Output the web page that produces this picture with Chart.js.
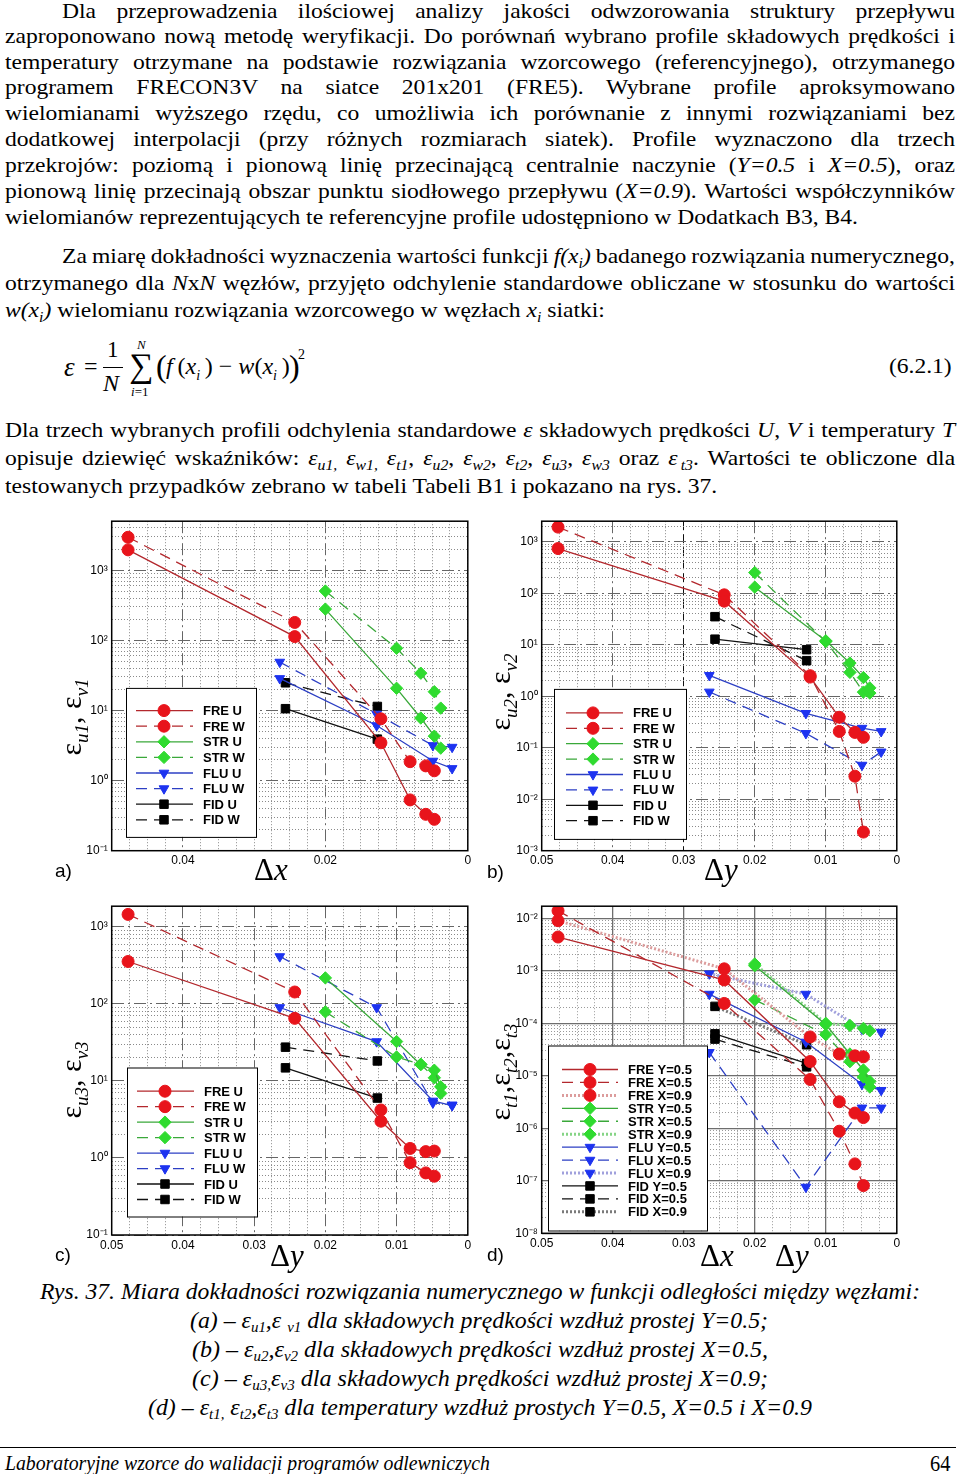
<!DOCTYPE html>
<html lang="pl">
<head>
<meta charset="utf-8">
<title>Rys. 37</title>
<script src="https://cdn.jsdelivr.net/npm/chart.js@4.4.1/dist/chart.umd.min.js"></script>
<style>
    html, body { margin: 0; padding: 0; background: #fff; }
    #page { position: relative; width: 960px; height: 1474px; overflow: hidden; font-family: "Liberation Serif", "Times New Roman", serif; color: #000; }
    .ln { position: absolute; font-size: 21px; line-height: 26px; white-space: nowrap; transform-origin: 0 0; }
    .ln > span { display: inline-block; white-space: nowrap; }
    .abs { position: absolute; white-space: nowrap; }
    .cap { position: absolute; font-style: italic; font-size: 24px; line-height: 28px; white-space: nowrap; transform-origin: 0 50%; }
    .cap > span { display: inline-block; white-space: nowrap; }
    .cap sub { font-size: 15px; vertical-align: -4px; }
    sub { font-size: 14px; line-height: 0; }
    canvas { position: absolute; }
    .ytitle { position: absolute; width: 220px; height: 40px; line-height: 40px; text-align: center; font-size: 30px; transform: rotate(-90deg); white-space: nowrap; }
    .ytitle sub { font-size: 19px; font-style: italic; vertical-align: -7px; }
    .xtitle { position: absolute; font-size: 31px; line-height: 32px; white-space: nowrap; }
    .plab { position: absolute; font-family: "Liberation Sans", Arial, sans-serif; font-size: 19px; line-height: 20px; }
</style>
</head>
<body>
<div id="page">

    <!-- akapit 1 -->
    <div class="ln j" style="left:62px; top:-2px" data-w="893"><span>Dla przeprowadzenia ilościowej analizy jakości odwzorowania struktury przepływu</span></div>
    <div class="ln j" style="left:5px; top:23px" data-w="950"><span>zaproponowano nową metodę weryfikacji. Do porównań wybrano profile składowych prędkości i</span></div>
    <div class="ln j" style="left:5px; top:49px" data-w="950"><span>temperatury otrzymane na podstawie rozwiązania wzorcowego (referencyjnego), otrzymanego</span></div>
    <div class="ln j" style="left:5px; top:74px" data-w="950"><span>programem FRECON3V na siatce 201x201 (FRE5). Wybrane profile aproksymowano</span></div>
    <div class="ln j" style="left:5px; top:100px" data-w="950"><span>wielomianami wyższego rzędu, co umożliwia ich porównanie z innymi rozwiązaniami bez</span></div>
    <div class="ln j" style="left:5px; top:126px" data-w="950"><span>dodatkowej interpolacji (przy różnych rozmiarach siatek). Profile wyznaczono dla trzech</span></div>
    <div class="ln j" style="left:5px; top:152px" data-w="950"><span>przekrojów: poziomą i pionową linię przecinającą centralnie naczynie (<i>Y=0.5</i> i <i>X=0.5</i>), oraz</span></div>
    <div class="ln j" style="left:5px; top:178px" data-w="950"><span>pionową linię przecinają obszar punktu siodłowego przepływu (<i>X=0.9</i>). Wartości współczynników</span></div>
    <div class="ln" id="p1last" style="left:5px; top:204px"><span>wielomianów reprezentujących te referencyjne profile udostępniono w Dodatkach B3, B4.</span></div>

    <!-- akapit 2 -->
    <div class="ln j" style="left:62px; top:243px" data-w="893"><span>Za miarę dokładności wyznaczenia wartości funkcji <i>f(x<sub>i</sub>)</i> badanego rozwiązania numerycznego,</span></div>
    <div class="ln j" style="left:5px; top:270px" data-w="950"><span>otrzymanego dla <i>N</i>x<i>N</i> węzłów, przyjęto odchylenie standardowe obliczane w stosunku do wartości</span></div>
    <div class="ln" style="left:5px; top:297px"><span><i>w(x<sub>i</sub>)</i> wielomianu rozwiązania wzorcowego w węzłach <i>x<sub>i</sub></i> siatki:</span></div>

    <!-- wzór (6.2.1) -->
    <span class="abs" style="left:64px; top:352px; font-size:27px; font-style:italic">ε</span>
    <span class="abs" style="left:84px; top:353px; font-size:24px">=</span>
    <span class="abs" style="left:107px; top:337px; font-size:23px">1</span>
    <div class="abs" style="left:103px; top:367px; width:20px; height:1px; background:#000"></div>
    <span class="abs" style="left:103px; top:370px; font-size:24px; font-style:italic">N</span>
    <span class="abs" style="left:129px; top:347px; font-size:34px">∑</span>
    <span class="abs" style="left:137px; top:337px; font-size:13px; font-style:italic">N</span>
    <span class="abs" style="left:131px; top:384px; font-size:13px"><i>i</i>=1</span>
    <span class="abs" style="left:156px; top:348px; font-size:32px">(</span>
    <span class="abs" style="left:166px; top:353px; font-size:24px"><i>f</i>&thinsp;(<i>x<sub>i</sub></i>&thinsp;) − <i>w</i>(<i>x<sub>i</sub></i>&thinsp;)</span>
    <span class="abs" style="left:289px; top:348px; font-size:32px">)</span>
    <span class="abs" style="left:298px; top:347px; font-size:14px">2</span>
    <span class="abs" style="left:889px; top:354px; font-size:21px; transform:scaleX(1.12); transform-origin:0 0">(6.2.1)</span>

    <!-- akapit 3 -->
    <div class="ln j" style="left:5px; top:417px" data-w="950"><span>Dla trzech wybranych profili odchylenia standardowe <i>ε</i> składowych prędkości <i>U</i>, <i>V</i> i temperatury <i>T</i></span></div>
    <div class="ln j" style="left:5px; top:445px" data-w="950"><span>opisuje dziewięć wskaźników: <i>ε<sub>u1,</sub></i> <i>ε<sub>w1,</sub></i> <i>ε<sub>t1</sub></i>, <i>ε<sub>u2</sub></i>, <i>ε<sub>w2</sub></i>, <i>ε<sub>t2</sub></i>, <i>ε<sub>u3</sub></i>, <i>ε<sub>w3</sub></i> oraz <i>ε<sub>&thinsp;t3</sub></i>. Wartości te obliczone dla</span></div>
    <div class="ln" style="left:5px; top:473px"><span>testowanych przypadków zebrano w tabeli Tabeli B1 i pokazano na rys. 37.</span></div>

    <!-- wykresy -->
    <canvas id="chartA" width="420" height="362" style="left:55px; top:510px"></canvas>
    <canvas id="chartB" width="420" height="362" style="left:484px; top:510px"></canvas>
    <canvas id="chartC" width="420" height="362" style="left:55px; top:895px"></canvas>
    <canvas id="chartD" width="420" height="362" style="left:484px; top:895px"></canvas>

    <div class="ytitle" style="left:-39px; top:697px">ε<sub>u1</sub>, ε<sub>v1</sub></div>
    <div class="ytitle" style="left:390px; top:672px">ε<sub>u2</sub>, ε<sub>v2</sub></div>
    <div class="ytitle" style="left:-39px; top:1060px">ε<sub>u3</sub>, ε<sub>v3</sub></div>
    <div class="ytitle" style="left:390px; top:1052px">ε<sub>t1</sub>,ε<sub>t2</sub>,ε<sub>t3</sub></div>

    <div class="xtitle" style="left:254px; top:854px">Δ<i>x</i></div>
    <div class="xtitle" style="left:704px; top:854px">Δ<i>y</i></div>
    <div class="xtitle" style="left:270px; top:1240px">Δ<i>y</i></div>
    <div class="xtitle" style="left:700px; top:1240px">Δ<i>x</i></div>
    <div class="xtitle" style="left:775px; top:1240px">Δ<i>y</i></div>

    <div class="plab" style="left:55px; top:861px">a)</div>
    <div class="plab" style="left:487px; top:862px">b)</div>
    <div class="plab" style="left:55px; top:1245px">c)</div>
    <div class="plab" style="left:487px; top:1245px">d)</div>

    <!-- podpis -->
    <div class="cap" style="left:40px; top:1277px" data-fit="880"><span>Rys. 37. Miara dokładności rozwiązania numerycznego w funkcji odległości między węzłami:</span></div>
    <div class="cap" style="left:190px; top:1306px" data-fit="578"><span>(a) – ε<sub>u1</sub>,ε <sub>v1</sub> dla składowych prędkości wzdłuż prostej Y=0.5;</span></div>
    <div class="cap" style="left:192px; top:1335px" data-fit="576"><span>(b) – ε<sub>u2</sub>,ε<sub>v2</sub> dla składowych prędkości wzdłuż prostej X=0.5,</span></div>
    <div class="cap" style="left:192px; top:1364px" data-fit="576"><span>(c) – ε<sub>u3,</sub>ε<sub>v3</sub> dla składowych prędkości wzdłuż prostej X=0.9;</span></div>
    <div class="cap" style="left:148px; top:1393px" data-fit="664"><span>(d) – ε<sub>t1,</sub> ε<sub>t2</sub>,ε<sub>t3</sub> dla temperatury wzdłuż prostych Y=0.5, X=0.5 i X=0.9</span></div>

    <!-- stopka -->
    <div class="abs" style="left:0; top:1447px; width:956px; height:1px; background:#000"></div>
    <div class="cap" style="left:5px; top:1449px; font-size:22px" data-fit="485"><span>Laboratoryjne wzorce do walidacji programów odlewniczych</span></div>
    <div class="abs" style="left:930px; top:1449px; font-size:24px; line-height:28px; transform:scaleX(0.85); transform-origin:0 50%">64</div>
</div>

<script>
// odległości między węzłami dla poszczególnych programów
const xFRE = [0.0477, 0.0243, 0.0122, 0.0081, 0.0059, 0.0047];
const xSTR = [0.0200, 0.0100, 0.0066, 0.0047, 0.0038];
const xFLU = [0.0264, 0.0128, 0.0049, 0.0022];
const xFID = [0.0256, 0.0127];

// a) eps_u1, eps_v1
const aFreU = [1950, 113, 3.46, 0.53, 0.33, 0.28];
const aFreW = [2950, 180, 7.6, 1.86, 1.62, 1.38];
const aStrU = [279, 20.7, 7.8, 4.3, 2.9];
const aStrW = [505, 77, 34, 18.5, 10.8];
const aFluU = [28.6, 6.1, 1.9, 1.49];
const aFluW = [49, 8.9, 3.17, 3.0];
const aFidU = [10.6, 3.9];
const aFidW = [24.8, 11.4];

// b) eps_u2, eps_v2
const bFreU = [736, 70, 2.35, 0.39, 0.198, 0.159];
const bFreW = [1920, 93, 2.5, 0.207, 0.028, 0.0023];
const bStrU = [131, 11.9, 4.4, 2.3, 1.45];
const bStrW = [251, 11.5, 2.9, 1.2, 1.15];
const bFluU = [2.54, 0.466, 0.24, 0.207];
const bFluW = [1.21, 0.19, 0.046, 0.083];
const bFidU = [12.8, 8.0];
const bFidW = [35, 4.9];

// c) eps_u3, eps_v3
const cFreU = [356, 65, 3.0, 1.33, 1.21, 1.23];
const cFreW = [1456, 143, 4.2, 0.87, 0.64, 0.58];
const cStrU = [218, 32.5, 16.3, 13.8, 8.4];
const cStrW = [79, 20.5, 16.5, 11, 6.9];
const cFluU = [90, 32.5, 5.5, 4.8];
const cFluW = [413, 90, 5.2, 4.9];
const cFidU = [14.8, 6.0];
const cFidW = [27.5, 18.2];

// d) eps_t1, eps_t2, eps_t3
const dFreY5 = [0.0044, 0.00067, 1.87e-5, 3.2e-6, 1.95e-6, 1.6e-6];
const dFreX5 = [0.0139, 0.000239, 8.5e-6, 8.8e-7, 2.1e-7, 8.1e-8];
const dFreX9 = [0.0090, 0.00109, 5.5e-5, 2.6e-5, 2.4e-5, 2.3e-5];
const dStrY5 = [1.25e-3, 9.5e-5, 2.6e-5, 1.29e-5, 7.8e-6];
const dStrX5 = [2.8e-4, 6.1e-5, 1.86e-5, 9.5e-6, 6.1e-6];
const dStrX9 = [1.35e-3, 1.0e-4, 9.1e-5, 8.0e-5, 7.2e-5];
const dFluY5 = [3.6e-4, 4.4e-5, 6.9e-6, 5.3e-6];
const dFluX5 = [2.8e-5, 7.6e-8, 2.45e-6, 2.45e-6];
const dFluX9 = [8.8e-4, 3.6e-4, 7.8e-5, 6.8e-5];
const dFidY5 = [6.3e-5, 1.72e-5];
const dFidX5 = [5.0e-5, 1.48e-5];
const dFidX9 = [2.1e-4, 3.9e-5];

// etykiety osi x
const xLabelsA = [0.04, 0.02, 0];
const xLabelsBCD = [0.05, 0.04, 0.03, 0.02, 0.01, 0];

// wygląd serii
const KIND = {
    FRE: { pointStyle: 'circle', r: 6, line: '#b3282d', mark: '#e8141b', dot: '#dc9c9c', rot: 0 },
    STR: { pointStyle: 'rectRot', r: 6.2, line: '#3aa83a', mark: '#2fdb2f', dot: '#86d486', rot: 0 },
    FLU: { pointStyle: 'triangle', r: 5.6, line: '#2c3fc4', mark: '#1d33f0', dot: '#a0a0dc', rot: 180 },
    FID: { pointStyle: 'rect', r: 6, line: '#111111', mark: '#000000', dot: '#7a7a7a', rot: 0 }
};

function ser(label, kind, xs, ys, style) {
    const k = KIND[kind];
    const dotted = style === 'dot';
    return {
        label: label,
        data: xs.map((x, i) => ({ x: x, y: ys[i] })),
        borderColor: dotted ? k.dot : k.line,
        borderWidth: dotted ? 3 : 1.3,
        borderDash: style === 'dash' ? [11, 7] : (dotted ? [2, 2] : []),
        pointStyle: k.pointStyle,
        pointRadius: k.r,
        pointRotation: k.rot,
        pointBackgroundColor: k.mark,
        pointBorderColor: k.mark,
        pointBorderWidth: 1,
        fill: false,
        tension: 0
    };
}

const SUP = { '-': '⁻', '0': '⁰', '1': '¹', '2': '²', '3': '³', '4': '⁴', '5': '⁵', '6': '⁶', '7': '⁷', '8': '⁸', '9': '⁹' };
const powLabel = e => '10' + String(e).split('').map(c => SUP[c]).join('');
const isDecade = v => Math.abs(Math.log10(v) - Math.round(Math.log10(v))) < 1e-6;
const near = (a, b) => Math.abs(a - b) < 1e-6;

function logTicks(min, max) {
    const out = [];
    for (let e = Math.floor(Math.log10(min)); e <= Math.ceil(Math.log10(max)); e++) {
        for (let m = 1; m <= 9; m++) {
            const v = m * Math.pow(10, e);
            if (v >= min * 0.999 && v <= max * 1.001) out.push({ value: v });
        }
    }
    return out;
}

// legenda w ramce + obramowanie pola wykresu
const boxLegend = {
    id: 'boxLegend',
    afterDraw(chart, args, o) {
        const ctx = chart.ctx, ca = chart.chartArea;
        const x0 = ca.left + o.left, y0 = ca.top + o.top;
        ctx.save();
        ctx.fillStyle = '#fff';
        ctx.fillRect(x0, y0, o.width, o.height);
        ctx.strokeStyle = '#000';
        ctx.lineWidth = 1;
        ctx.strokeRect(x0 + 0.5, y0 + 0.5, o.width, o.height);
        ctx.font = 'bold 13px "Liberation Sans", Arial, sans-serif';
        ctx.textBaseline = 'middle';
        chart.data.datasets.forEach((ds, i) => {
            const y = y0 + o.firstRow + i * o.rowGap;
            ctx.setLineDash(ds.borderDash);
            ctx.strokeStyle = ds.borderColor;
            ctx.lineWidth = ds.borderWidth;
            ctx.beginPath();
            ctx.moveTo(x0 + o.lineFrom, y);
            ctx.lineTo(x0 + o.lineTo, y);
            ctx.stroke();
            ctx.setLineDash([]);
            ctx.fillStyle = ds.pointBackgroundColor;
            ctx.strokeStyle = ds.pointBorderColor;
            ctx.lineWidth = 1;
            Chart.helpers.drawPoint(ctx, { pointStyle: ds.pointStyle, radius: ds.pointRadius, rotation: ds.pointRotation, borderWidth: 1 }, x0 + o.markX, y);
            ctx.fillStyle = '#000';
            ctx.fillText(ds.label, x0 + o.textX, y + 1);
        });
        ctx.setLineDash([]);
        ctx.strokeStyle = '#000';
        ctx.lineWidth = 1.5;
        ctx.strokeRect(ca.left, ca.top, ca.right - ca.left, ca.bottom - ca.top);
        ctx.restore();
    }
};

function makeChart(id, cfg) {
    const el = document.getElementById(id);
    const bl = parseFloat(el.style.left), bt = parseFloat(el.style.top);
    const [pl, pt, pr, pb] = cfg.plot;
    const g = cfg.grid;
    const yTickList = logTicks(cfg.yMin, cfg.yMax);
    const xTickList = [];
    for (let i = 0; i <= 20; i++) xTickList.push({ value: i * 0.0025 });

    const xStyle = v => {
        if (g.xSpecial && near(v, g.xSpecial.value)) return g.xSpecial;
        if (cfg.xMajor.some(m => near(m, v))) return { dash: g.majDash, color: g.majColor, width: g.majWidth };
        return { dash: g.minDash, color: g.minColor, width: 1 };
    };
    const yStyle = v => isDecade(v)
        ? { dash: g.majDash, color: g.majColor, width: g.majWidth }
        : { dash: g.minDash, color: g.minColor, width: 1 };

    return new Chart(el, {
        type: 'line',
        data: { datasets: cfg.datasets },
        plugins: [boxLegend],
        options: {
            responsive: false,
            animation: false,
            devicePixelRatio: 1,
            layout: { padding: { left: 0, top: pt - bt, right: bl + el.width - pr, bottom: 0 } },
            plugins: {
                legend: { display: false },
                tooltip: { enabled: false },
                boxLegend: cfg.legend
            },
            scales: {
                x: {
                    type: 'linear',
                    reverse: true,
                    min: 0,
                    max: 0.05,
                    afterBuildTicks: s => { s.ticks = xTickList.map(t => ({ value: t.value })); },
                    afterFit: s => { s.height = bt + el.height - pb; },
                    ticks: {
                        autoSkip: false,
                        maxRotation: 0,
                        padding: 3,
                        color: '#000',
                        font: { family: '"Liberation Sans", Arial, sans-serif', size: 12 },
                        callback: v => cfg.xLabels.some(m => near(m, v)) ? (near(v, 0) ? '0' : v.toFixed(2)) : ''
                    },
                    grid: {
                        drawTicks: false,
                        color: c => c.tick ? xStyle(c.tick.value).color : 'transparent',
                        lineWidth: c => c.tick ? xStyle(c.tick.value).width : 0
                    },
                    border: { display: false, dash: c => c.tick ? xStyle(c.tick.value).dash : [] }
                },
                y: {
                    type: 'logarithmic',
                    min: cfg.yMin,
                    max: cfg.yMax,
                    afterBuildTicks: s => { s.ticks = yTickList.map(t => ({ value: t.value })); },
                    afterFit: s => { s.width = pl - bl; },
                    ticks: {
                        autoSkip: false,
                        padding: 4,
                        color: '#000',
                        font: { family: '"Liberation Sans", Arial, sans-serif', size: 12 },
                        callback: v => isDecade(v) ? powLabel(Math.round(Math.log10(v))) : ''
                    },
                    grid: {
                        drawTicks: false,
                        color: c => c.tick ? yStyle(c.tick.value).color : 'transparent',
                        lineWidth: c => c.tick ? yStyle(c.tick.value).width : 0
                    },
                    border: { display: false, dash: c => c.tick ? yStyle(c.tick.value).dash : [] }
                }
            }
        }
    });
}

const gridDashDot = { majDash: [12, 4, 2, 4], majColor: '#666', majWidth: 1, minDash: [1, 2], minColor: '#8a8a8a' };
const legend8 = { width: 130, height: 149, firstRow: 22.7, rowGap: 15.6, lineFrom: 10, lineTo: 67, markX: 38, textX: 77 };

makeChart('chartA', {
    plot: [111.7, 517.3, 468.3, 850.7],
    yMin: 0.1, yMax: 5000,
    xLabels: xLabelsA, xMajor: [0.04, 0.02],
    grid: gridDashDot,
    legend: Object.assign({}, legend8, { left: 14.3, top: 166.7 }),
    datasets: [
        ser('FRE U', 'FRE', xFRE, aFreU, 'solid'),
        ser('FRE W', 'FRE', xFRE, aFreW, 'dash'),
        ser('STR U', 'STR', xSTR, aStrU, 'solid'),
        ser('STR W', 'STR', xSTR, aStrW, 'dash'),
        ser('FLU U', 'FLU', xFLU, aFluU, 'solid'),
        ser('FLU W', 'FLU', xFLU, aFluW, 'dash'),
        ser('FID U', 'FID', xFID, aFidU, 'solid'),
        ser('FID W', 'FID', xFID, aFidW, 'dash')
    ]
});

makeChart('chartB', {
    plot: [541.7, 517.3, 898, 850.7],
    yMin: 0.001, yMax: 2500,
    xLabels: xLabelsBCD, xMajor: [0.04, 0.02, 0.01],
    grid: Object.assign({}, gridDashDot, { xSpecial: { value: 0.03, dash: [9, 4], color: '#111', width: 1 } }),
    legend: { left: 12.3, top: 167.7, width: 132, height: 150, firstRow: 24, rowGap: 15.4, lineFrom: 12, lineTo: 69, markX: 39, textX: 79 },
    datasets: [
        ser('FRE U', 'FRE', xFRE, bFreU, 'solid'),
        ser('FRE W', 'FRE', xFRE, bFreW, 'dash'),
        ser('STR U', 'STR', xSTR, bStrU, 'solid'),
        ser('STR W', 'STR', xSTR, bStrW, 'dash'),
        ser('FLU U', 'FLU', xFLU, bFluU, 'solid'),
        ser('FLU W', 'FLU', xFLU, bFluW, 'dash'),
        ser('FID U', 'FID', xFID, bFidU, 'solid'),
        ser('FID W', 'FID', xFID, bFidW, 'dash')
    ]
});

makeChart('chartC', {
    plot: [111.7, 902.7, 468.3, 1235],
    yMin: 0.1, yMax: 1860,
    xLabels: xLabelsBCD, xMajor: [0.04, 0.03, 0.02, 0.01],
    grid: gridDashDot,
    legend: Object.assign({}, legend8, { left: 15.3, top: 161.3, firstRow: 23.7, rowGap: 15.47 }),
    datasets: [
        ser('FRE U', 'FRE', xFRE, cFreU, 'solid'),
        ser('FRE W', 'FRE', xFRE, cFreW, 'dash'),
        ser('STR U', 'STR', xSTR, cStrU, 'solid'),
        ser('STR W', 'STR', xSTR, cStrW, 'dash'),
        ser('FLU U', 'FLU', xFLU, cFluU, 'solid'),
        ser('FLU W', 'FLU', xFLU, cFluW, 'dash'),
        ser('FID U', 'FID', xFID, cFidU, 'solid'),
        ser('FID W', 'FID', xFID, cFidW, 'dash')
    ]
});

makeChart('chartD', {
    plot: [541.7, 902.7, 898, 1233.3],
    yMin: 1e-8, yMax: 0.017,
    xLabels: xLabelsBCD, xMajor: [0.04, 0.03, 0.02, 0.01],
    grid: { majDash: [], majColor: '#6e6e6e', majWidth: 1.3, minDash: [1, 2], minColor: '#9a9a9a' },
    legend: { left: 6.3, top: 139.3, width: 159, height: 185, firstRow: 24, rowGap: 12.94, lineFrom: 14, lineTo: 70, markX: 42, textX: 80 },
    datasets: [
        ser('FRE Y=0.5', 'FRE', xFRE, dFreY5, 'solid'),
        ser('FRE X=0.5', 'FRE', xFRE, dFreX5, 'dash'),
        ser('FRE X=0.9', 'FRE', xFRE, dFreX9, 'dot'),
        ser('STR Y=0.5', 'STR', xSTR, dStrY5, 'solid'),
        ser('STR X=0.5', 'STR', xSTR, dStrX5, 'dash'),
        ser('STR X=0.9', 'STR', xSTR, dStrX9, 'dot'),
        ser('FLU Y=0.5', 'FLU', xFLU, dFluY5, 'solid'),
        ser('FLU X=0.5', 'FLU', xFLU, dFluX5, 'dash'),
        ser('FLU X=0.9', 'FLU', xFLU, dFluX9, 'dot'),
        ser('FID Y=0.5', 'FID', xFID, dFidY5, 'solid'),
        ser('FID X=0.5', 'FID', xFID, dFidX5, 'dash'),
        ser('FID X=0.9', 'FID', xFID, dFidX9, 'dot')
    ]
});

// tekst w oryginale jest nieco rozciągnięty w poziomie: skala z ostatniego wiersza akapitu 1
const lastLine = document.getElementById('p1last').firstElementChild;
const S = 853 / lastLine.getBoundingClientRect().width;

// justowanie wierszy (odstępy między wyrazami), liczone przed skalowaniem
document.querySelectorAll('.j').forEach(el => {
    const span = el.firstElementChild;
    const target = parseFloat(el.dataset.w) / S;
    const w = span.getBoundingClientRect().width;
    const gaps = (span.textContent.match(/ /g) || []).length;
    if (gaps > 0) span.style.wordSpacing = ((target - w) / gaps) + 'px';
});
document.querySelectorAll('.ln').forEach(el => { el.style.transform = 'scaleX(' + S + ')'; });

// zwężony krój podpisu: dopasowanie do szerokości z oryginału
document.querySelectorAll('[data-fit]').forEach(el => {
    const span = el.firstElementChild;
    const w = span.getBoundingClientRect().width;
    el.style.transform = 'scaleX(' + (parseFloat(el.dataset.fit) / w) + ')';
});
</script>
</body>
</html>
